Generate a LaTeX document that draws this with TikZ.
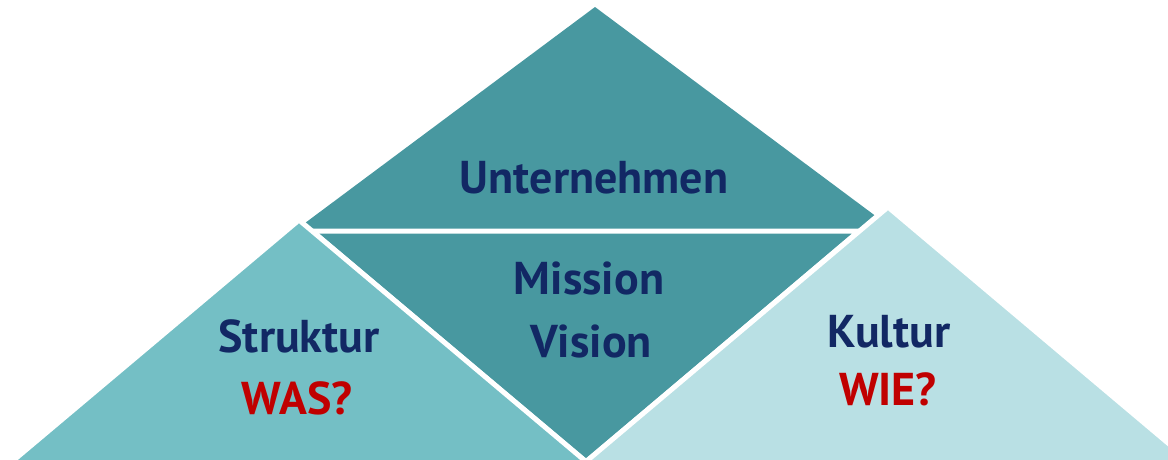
\documentclass[tikz,border=0pt]{standalone}
\usepackage{fontspec}
\setmainfont{PT Sans}
\usepackage{xcolor}
\definecolor{tealdark}{RGB}{72,152,160}
\definecolor{tealmid}{RGB}{116,191,197}
\definecolor{teallight}{RGB}{185,224,228}
\definecolor{navytext}{RGB}{18,40,100}
\definecolor{redtext}{RGB}{192,0,0}

\begin{document}
\begin{tikzpicture}[x=1pt, y=-1pt,
    part/.style={draw=white, line width=5pt, line join=miter},
    label/.style={anchor=base, inner sep=0pt, text=navytext,
        font=\fontsize{46}{54}\selectfont\bfseries},
    question/.style={label, text=redtext}]
    \useasboundingbox (0,0) rectangle (1168,459);
    \clip (0,0) rectangle (1168,459);

    % Unternehmen (top) and Mission/Vision (centre)
    \fill[tealdark] (595,7) -- (893,229) -- (297,229) -- cycle;
    \filldraw[part, fill=tealdark] (312,231) -- (859,231) -- (586,462) -- cycle;

    % Struktur left, Kultur right
    \filldraw[part, fill=tealmid] (2,470) -- (299,220) -- (596,470) -- cycle;
    \filldraw[part, fill=teallight] (576,470) -- (888,207) -- (1200,470) -- cycle;

    \node[label] (top) at (594,193) {Unternehmen};
    \node[label] (mission) at (589,294) {Mission};
    \node[label] (vision) at (591,357) {Vision};
    \node[label] (struktur) at (299,352) {Struktur};
    \node[question] (was) at (297,414) {WAS?};
    \node[label] (kultur) at (889,347) {Kultur};
    \node[question] (wie) at (888,405) {WIE?};
\end{tikzpicture}
\end{document}
